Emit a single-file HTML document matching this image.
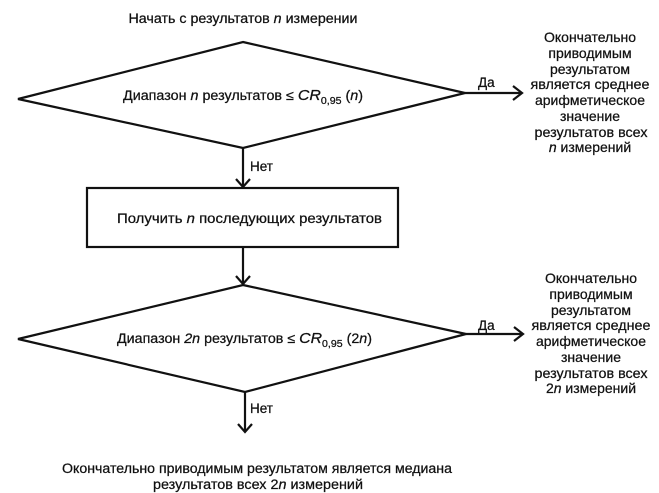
<!DOCTYPE html>
<html>
<head>
<meta charset="utf-8">
<style>
  html,body{margin:0;padding:0;background:#fff;}
  svg{display:block;}
  text{font-family:"Liberation Sans","DejaVu Sans",sans-serif;fill:#111;stroke:#111;stroke-width:0.25;}
</style>
</head>
<body>
<svg width="659" height="493" viewBox="0 0 659 493" xmlns="http://www.w3.org/2000/svg">
  <g fill="none" stroke="#111" stroke-width="2.2" stroke-linejoin="miter">
    <polygon points="243,42 465,93 243,148 18,99"/>
    <rect x="87" y="188" width="311" height="59"/>
    <polygon points="243,285 466,334 245,392 18,339"/>
    <line x1="243" y1="148" x2="243" y2="186"/>
    <polyline points="236,179 243,187 250,179"/>
    <line x1="243" y1="247" x2="243" y2="283"/>
    <polyline points="236,276 243,284 250,276"/>
    <line x1="245" y1="392" x2="245" y2="431"/>
    <polyline points="238,424 245,432 252,424"/>
    <line x1="465" y1="93" x2="521" y2="93"/>
    <polyline points="513,86 522,93 513,100"/>
    <line x1="466" y1="334" x2="522" y2="334"/>
    <polyline points="514,327 523,334 514,341"/>
  </g>

  <g font-size="13.5">
    <text x="243" y="23" text-anchor="middle" textLength="229" lengthAdjust="spacingAndGlyphs">Начать с результатов <tspan font-style="italic">n</tspan> измерении</text>

    <text x="123" y="100" textLength="240" lengthAdjust="spacingAndGlyphs">Диапазон <tspan font-style="italic">n</tspan> результатов ≤ <tspan font-style="italic" font-size="15">CR</tspan><tspan font-size="10" dy="4">0,95</tspan><tspan dy="-4"> (</tspan><tspan font-style="italic">n</tspan>)</text>

    <text x="117" y="223" textLength="265" lengthAdjust="spacingAndGlyphs">Получить <tspan font-style="italic">n</tspan> последующих результатов</text>

    <text x="117" y="343" textLength="255" lengthAdjust="spacingAndGlyphs">Диапазон <tspan font-style="italic">2n</tspan> результатов ≤ <tspan font-style="italic" font-size="15">CR</tspan><tspan font-size="10" dy="4">0,95</tspan><tspan dy="-4"> (2</tspan><tspan font-style="italic">n</tspan>)</text>

    <text x="250" y="171">Нет</text>
    <text x="250" y="413">Нет</text>
    <text x="478" y="87">Да</text>
    <text x="478" y="330">Да</text>

    <text x="257" y="473" text-anchor="middle" textLength="390" lengthAdjust="spacingAndGlyphs">Окончательно приводимым результатом является медиана</text>
    <text x="258" y="489" text-anchor="middle" textLength="210" lengthAdjust="spacingAndGlyphs">результатов всех 2<tspan font-style="italic">n</tspan> измерений</text>
  </g>

  <g font-size="14" text-anchor="middle">
    <text x="590" y="42">Окончательно</text>
    <text x="590" y="58">приводимым</text>
    <text x="590" y="74">результатом</text>
    <text x="590" y="89" textLength="119" lengthAdjust="spacingAndGlyphs">является среднее</text>
    <text x="590" y="105">арифметическое</text>
    <text x="590" y="121">значение</text>
    <text x="591" y="137" textLength="113" lengthAdjust="spacingAndGlyphs">результатов всех</text>
    <text x="590" y="152"><tspan font-style="italic">n</tspan> измерений</text>

    <text x="591" y="283">Окончательно</text>
    <text x="591" y="299">приводимым</text>
    <text x="591" y="315">результатом</text>
    <text x="591" y="330" textLength="119" lengthAdjust="spacingAndGlyphs">является среднее</text>
    <text x="591" y="346">арифметическое</text>
    <text x="591" y="362">значение</text>
    <text x="591" y="378" textLength="113" lengthAdjust="spacingAndGlyphs">результатов всех</text>
    <text x="591" y="393">2<tspan font-style="italic">n</tspan> измерений</text>
  </g>
</svg>
</body>
</html>
